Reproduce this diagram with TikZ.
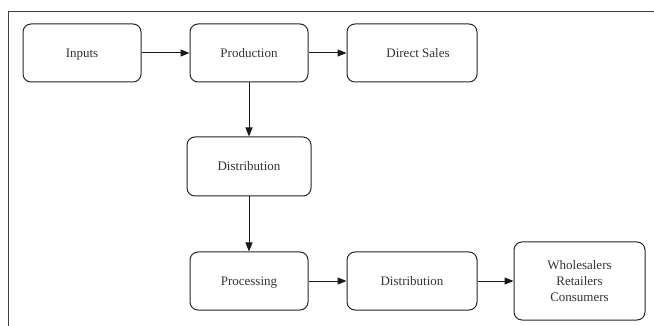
\documentclass[tikz,border=0pt]{standalone}
\usepackage{fontspec}
\setmainfont{Liberation Serif}
\usetikzlibrary{arrows.meta}
\begin{document}
\begin{tikzpicture}[x=1pt,y=-1pt,
  box/.style={draw=black!85,line width=1pt,rounded corners=8pt,
    font=\fontsize{13}{16}\selectfont,text=black!80,inner sep=0pt,
    text height=9pt,text depth=0pt},
  multibox/.style={draw=black!85,line width=1pt,rounded corners=8pt,align=center,
    font=\fontsize{13}{16}\selectfont,text=black!80,inner sep=0pt},
  arr/.style={line width=1pt,draw=black!90,-{Triangle[length=9pt,width=7pt]}}]
\useasboundingbox (0,0) rectangle (654,326);
\draw[line width=1pt,black!75] (8.5,330) -- (8.5,12) -- (660,12);
\node[box,minimum width=118pt,minimum height=58pt] (inputs) at (82,53) {Inputs};
\node[box,minimum width=118pt,minimum height=58pt] (prod) at (249,53) {Production};
\node[box,minimum width=130pt,minimum height=58pt] (direct) at (412,53) {\hspace{12pt}Direct Sales};
\node[box,minimum width=124pt,minimum height=59pt] (dist1) at (249,166.5) {Distribution};
\node[box,minimum width=118pt,minimum height=58pt] (proc) at (249,281) {Processing};
\node[box,minimum width=130pt,minimum height=58pt] (dist2) at (412,281) {Distribution};
\node[multibox,minimum width=131pt,minimum height=78pt] (whole) at (579.5,281) {Wholesalers\\Retailers\\Consumers};
\draw[arr] (inputs) -- (prod);
\draw[arr] (prod) -- (direct);
\draw[arr] (prod) -- (dist1);
\draw[arr] (dist1) -- (proc);
\draw[arr] (proc) -- (dist2);
\draw[arr] (dist2) -- (whole);
\end{tikzpicture}
\end{document}
